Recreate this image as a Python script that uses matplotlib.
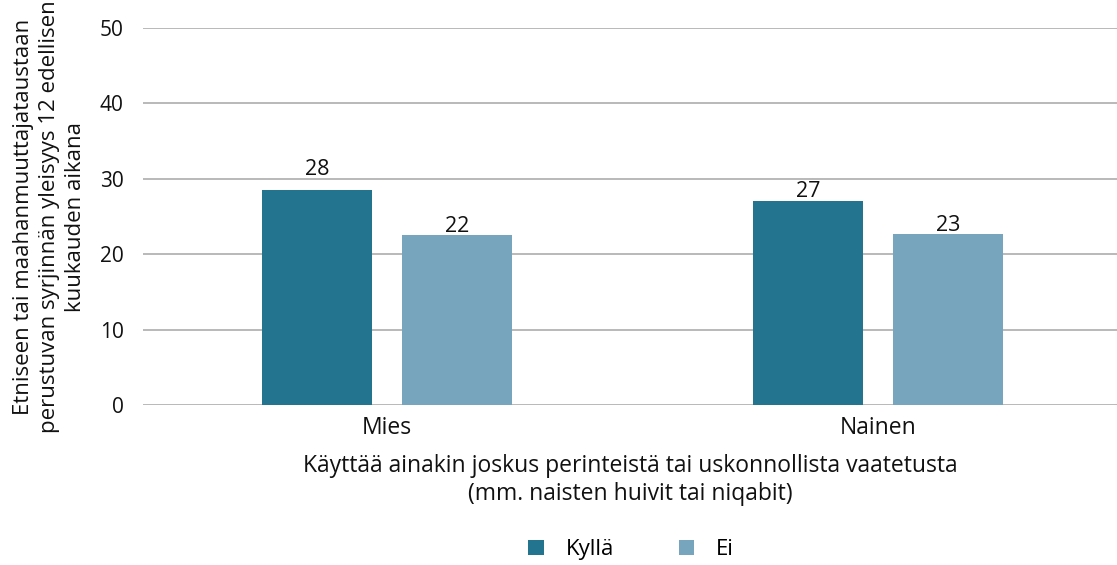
import numpy as np
import matplotlib.pyplot as plt

categories = ['Mies', 'Nainen']
series_names = ['Kyllä', 'Ei']
kylla_values = [28.5, 27.1]
ei_values = [22.5, 22.7]
kylla_labels = ['28', '27']
ei_labels = ['22', '23']

dark = '#23758f'
light = '#76a5bd'

plt.rcParams['font.family'] = ['Liberation Sans Narrow', 'Open Sans', 'DejaVu Sans']
num_font = ['Open Sans', 'DejaVu Sans']

fig = plt.figure(figsize=(11.17, 5.65), dpi=100)
ax = fig.add_axes([0.128, 0.2832, 0.872, 0.6672])

x = np.arange(len(categories))
w = 0.224
off = 0.1426
b1 = ax.bar(x - off, kylla_values, w, color=dark, label=series_names[0], zorder=3)
b2 = ax.bar(x + off, ei_values, w, color=light, label=series_names[1], zorder=3)

# the first label sits above the 30 gridline in the original
lifts = [[11, 3], [2.2, 2.2]]
for bars, labs, lift in ((b1, kylla_labels, lifts[0]), (b2, ei_labels, lifts[1])):
    for b, lab, dy in zip(bars, labs, lift):
        ax.annotate(lab, (b.get_x() + b.get_width() / 2, b.get_height()),
                    xytext=(0, dy), textcoords='offset points',
                    ha='center', va='baseline', fontsize=15.5, color='#111111',
                    family=num_font)

ax.set_ylim(0, 50)
ax.set_yticks(range(0, 51, 10))
ax.set_xlim(-0.497, 1.487)
ax.set_xticks(x)
ax.set_xticklabels(categories, fontsize=16.5)
for t in ax.get_yticklabels():
    t.set_family(num_font)
ax.yaxis.grid(True, color='#b3b3b3', linewidth=1.3, zorder=0)
ax.set_axisbelow(True)
for s in ax.spines.values():
    s.set_visible(False)
ax.tick_params(axis='y', length=0, labelsize=15, colors='#111111', pad=14)
ax.tick_params(axis='x', length=0, colors='#111111', pad=8)

ax.set_xlabel('Käyttää ainakin joskus perinteistä tai uskonnollista vaatetusta\n(mm. naisten huivit tai niqabit)',
              fontsize=16.5, color='#111111', labelpad=10, linespacing=1.25)
ax.set_ylabel('Etniseen tai maahanmuuttajataustaan\nperustuvan syrjinnän yleisyys 12 edellisen\nkuukauden aikana',
              fontsize=16, color='#111111', labelpad=10, linespacing=1.3)

fig.legend(handles=[b1, b2], labels=series_names, loc='center', bbox_to_anchor=(0.565, 0.027),
           ncol=2, frameon=False, prop={'family': num_font, 'size': 16},
           handlelength=0.7, handleheight=0.7, columnspacing=2.9, handletextpad=1.0,
           borderpad=0.1)

fig.savefig('out.png', dpi=100)
